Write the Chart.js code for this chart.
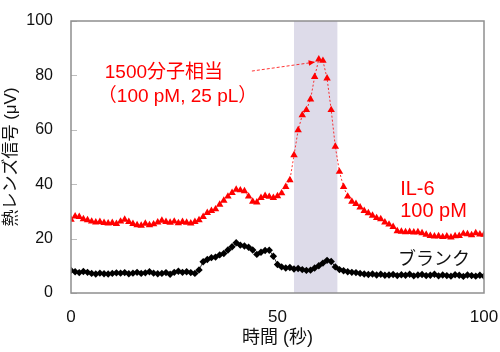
<!DOCTYPE html>
<html>
<head>
<meta charset="utf-8">
<script src="https://cdn.jsdelivr.net/npm/chart.js@4.4.1/dist/chart.umd.min.js"></script>
<style>
html,body{margin:0;padding:0;background:#fff;}
#wrap{width:500px;height:352px;}
</style>
</head>
<body>
<div id="wrap"><canvas id="c" width="500" height="352"></canvas></div>
<script>
// time (s)
const times = Array.from({length: 101}, (_, i) => i);
// IL-6 100 pM signal (μV)
const il6 = [27.0,28.2,28.0,27.2,26.8,26.3,26.0,26.2,25.8,25.6,
  25.8,25.4,26.3,27.0,26.2,25.4,25.0,24.8,25.5,25.0,
  25.3,26.0,26.6,26.2,25.9,26.3,25.7,26.2,25.9,25.6,
  26.2,26.8,28.0,29.5,30.2,30.8,32.5,34.0,35.5,36.8,
  38.0,37.8,37.5,35.5,33.6,33.3,35.0,35.7,35.4,35.0,
  35.6,36.7,39.0,41.5,50.7,59.9,65.4,67.3,71.2,79.5,
  85.9,85.4,78.9,67.3,53.8,44.6,39.0,35.5,33.6,32.8,
  31.5,30.2,29.4,28.5,27.6,27.2,26.0,25.2,24.3,22.8,
  22.6,22.4,22.5,22.3,22.4,22.0,21.5,21.0,20.8,20.9,
  20.6,20.8,20.5,20.9,21.0,21.8,21.7,21.3,22.0,21.6,21.5];
// blank signal (μV)
const blank = [8.3,7.8,7.5,7.9,7.6,7.2,7.0,7.3,7.1,7.0,
  7.2,7.4,7.3,7.5,7.1,7.3,7.6,7.2,7.4,7.8,
  7.3,7.1,7.2,7.5,6.9,7.6,8.0,7.6,7.8,7.5,
  7.2,8.5,11.5,12.3,13.0,13.2,14.0,14.5,15.8,17.0,
  18.5,17.6,17.3,16.8,15.8,14.2,15.0,15.6,15.7,13.5,
  10.5,9.6,9.2,9.4,8.8,9.0,8.6,8.3,8.4,9.2,
  10.0,11.0,12.0,11.6,9.6,8.6,8.2,7.8,7.6,7.5,
  7.2,7.0,6.8,7.0,6.6,6.9,6.5,6.6,6.8,6.4,
  6.7,6.5,6.9,6.3,6.6,6.8,6.4,6.5,6.9,6.3,
  6.6,6.4,6.2,6.7,6.5,6.1,6.6,6.4,6.2,6.5,6.2];
const xTicks = [0, 50, 100];
const yTicks = [0, 20, 40, 60, 80, 100];
// injection window (s)
const band = [54, 64.5];
const peak = {x: 59.1, y: 84.9};
const arrowFrom = {x: 43.8, y: 81.6};
const noteLines = ['1500分子相当', '（100 pM, 25 pL）'];
const il6Label = ['IL-6', '100 pM'];
const blankLabel = 'ブランク';
const xTitle = '時間 (秒)';
const yTitle = '熱レンズ信号 (μV)';

const FONT = '"Liberation Sans", Arial, "Noto Sans CJK JP", sans-serif';
const RED = '#ff0000';

const decor = {
  id: 'decor',
  beforeDatasetsDraw(chart) {
    const {ctx, chartArea: a, scales: {x, y}} = chart;
    ctx.save();
    ctx.fillStyle = '#dddbe9';
    const x0 = x.getPixelForValue(band[0]), x1 = x.getPixelForValue(band[1]);
    ctx.fillRect(x0, a.top, x1 - x0, a.bottom - a.top);
    // inward y ticks
    ctx.strokeStyle = '#bdbdbd';
    ctx.lineWidth = 1;
    yTicks.forEach(v => {
      const py = Math.round(y.getPixelForValue(v)) + 0.5;
      ctx.beginPath(); ctx.moveTo(a.left, py); ctx.lineTo(a.left + 6, py); ctx.stroke();
    });
    ctx.restore();
  },
  afterDatasetsDraw(chart) {
    const {ctx, chartArea: a, scales: {x, y}} = chart;
    ctx.save();
    // frame
    ctx.strokeStyle = '#8f8f8f';
    ctx.lineWidth = 1.5;
    ctx.strokeRect(a.left, a.top, a.right - a.left, a.bottom - a.top);
    // annotation arrow
    const sx = x.getPixelForValue(arrowFrom.x), sy = y.getPixelForValue(arrowFrom.y);
    const ex = x.getPixelForValue(peak.x), ey = y.getPixelForValue(peak.y);
    ctx.strokeStyle = RED; ctx.fillStyle = RED; ctx.lineWidth = 0.8;
    ctx.setLineDash([3, 2]);
    ctx.beginPath(); ctx.moveTo(sx, sy); ctx.lineTo(ex, ey); ctx.stroke();
    ctx.setLineDash([]);
    const ang = Math.atan2(ey - sy, ex - sx);
    ctx.beginPath();
    ctx.moveTo(ex, ey);
    ctx.lineTo(ex - 7 * Math.cos(ang - 0.4), ey - 7 * Math.sin(ang - 0.4));
    ctx.lineTo(ex - 7 * Math.cos(ang + 0.4), ey - 7 * Math.sin(ang + 0.4));
    ctx.closePath(); ctx.fill();
    // texts
    ctx.textBaseline = 'middle';
    ctx.font = '19px ' + FONT;
    ctx.fillStyle = RED;
    ctx.textAlign = 'center';
    ctx.fillText(noteLines[0], x.getPixelForValue(22.5), y.getPixelForValue(80.9));
    ctx.fillText(noteLines[1], x.getPixelForValue(25.8), y.getPixelForValue(72.0));
    ctx.textAlign = 'left';
    ctx.font = '20px ' + FONT;
    ctx.fillText(il6Label[0], x.getPixelForValue(79.7), y.getPixelForValue(38.2));
    ctx.fillText(il6Label[1], x.getPixelForValue(79.7), y.getPixelForValue(29.8));
    ctx.fillStyle = '#111';
    ctx.font = '18px ' + FONT;
    ctx.fillText(blankLabel, x.getPixelForValue(79.2), y.getPixelForValue(12.1));
    ctx.restore();
  }
};

new Chart(document.getElementById('c'), {
  type: 'line',
  data: {
    datasets: [
      {
        label: 'IL-6 100 pM',
        data: times.map((t, i) => ({x: t, y: il6[i]})),
        borderColor: RED, backgroundColor: RED,
        borderWidth: 0.8, borderDash: [2, 2],
        pointStyle: 'triangle', pointRadius: 4.3, pointBorderWidth: 0,
        pointBackgroundColor: RED
      },
      {
        label: 'ブランク',
        data: times.map((t, i) => ({x: t, y: blank[i]})),
        borderColor: '#000', backgroundColor: '#000',
        borderWidth: 0.8,
        pointStyle: 'rectRot', pointRadius: 3.7, pointBorderWidth: 0,
        pointBackgroundColor: '#000'
      }
    ]
  },
  options: {
    responsive: false,
    animation: false,
    devicePixelRatio: 1,
    layout: {padding: {top: 21, right: 16, left: 0, bottom: 0}},
    plugins: {legend: {display: false}, tooltip: {enabled: false}},
    scales: {
      x: {
        type: 'linear', min: 0, max: 100,
        afterBuildTicks: s => { s.ticks = xTicks.map(v => ({value: v})); },
        afterFit: s => { s.height = 59; s.paddingLeft = 0; s.paddingRight = 0; },
        grid: {display: false, drawTicks: false},
        border: {display: false},
        ticks: {color: '#111', font: {size: 17, family: FONT}, padding: 14, maxRotation: 0},
        title: {display: true, text: xTitle, color: '#111', font: {size: 18, family: FONT}, padding: {bottom: 3, top: 0}}
      },
      y: {
        min: 0, max: 100,
        afterBuildTicks: s => { s.ticks = yTicks.map(v => ({value: v})); },
        afterFit: s => { s.width = 71; s.paddingTop = 0; s.paddingBottom = 0; },
        grid: {display: false, drawTicks: false},
        border: {display: false},
        ticks: {color: '#111', font: {size: 16, family: FONT}, padding: 18},
        title: {display: true, text: yTitle, color: '#111', font: {size: 17, family: FONT}, padding: {top: 1, bottom: 0}}
      }
    }
  },
  plugins: [decor]
});
</script>
</body>
</html>
